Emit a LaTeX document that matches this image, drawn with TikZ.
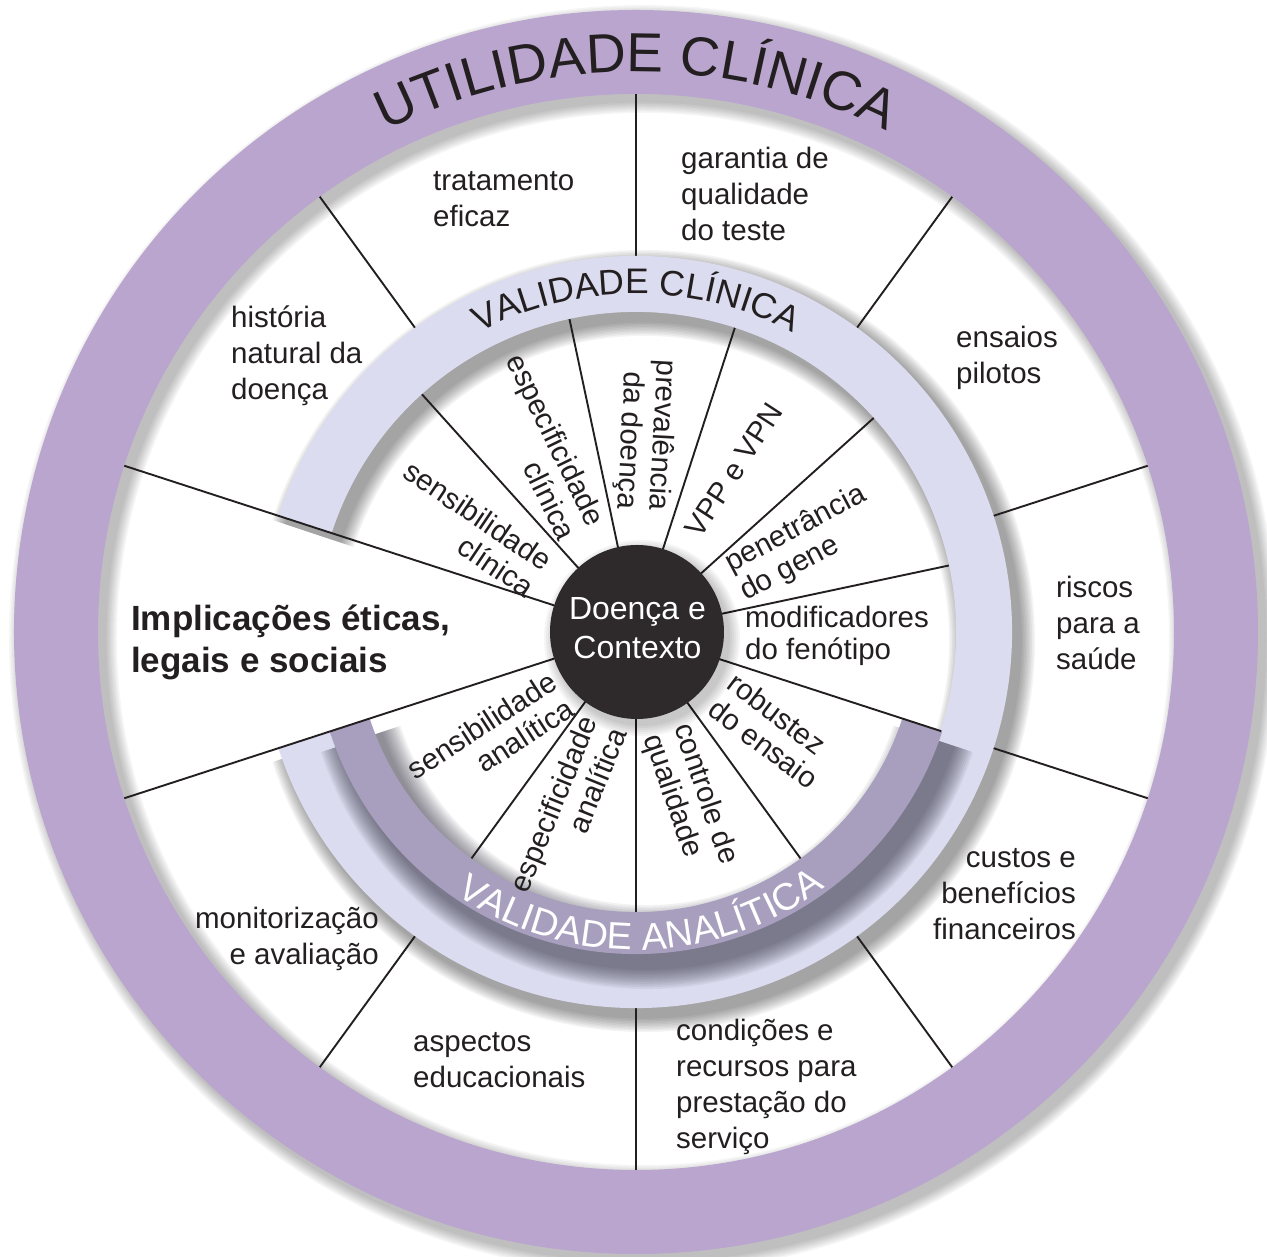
\documentclass[tikz,border=0pt]{standalone}
\usepackage{fontspec}
\setmainfont{Liberation Sans}
\usetikzlibrary{decorations.text}
\definecolor{ringpurple}{RGB}{185,165,206}
\definecolor{lavender}{RGB}{219,220,239}
\definecolor{bandpurple}{RGB}{168,158,189}
\definecolor{coreblack}{RGB}{46,41,42}
\definecolor{txt}{RGB}{35,31,32}
\definecolor{bandshadow}{RGB}{40,38,55}
\begin{document}
\begin{tikzpicture}[x=1pt,y=1pt,
  lbl/.style={font=\fontsize{29.5}{36}\selectfont, text=txt, inner sep=0pt},
  ilbl/.style={font=\fontsize{29.5}{32}\selectfont, text=txt, inner sep=0pt},
  divider/.style={draw=txt, line width=1.9pt},
]
\useasboundingbox (-636,-625) rectangle (631,632);

% outer ring with soft shadow
\begin{scope}[shift={(7,-7)}]
  \foreach \k in {1,...,8}
    \draw[black, opacity=0.035, line width=84+3*\k] (0,0) circle[radius=580];
\end{scope}
\fill[ringpurple, even odd rule] (0,0) circle[radius=622] (0,0) circle[radius=538];

% shadow of the clinical validity ring
\begin{scope}[shift={(8,-9)}]
  \foreach \k in {1,...,10}
    \draw[black, opacity=0.045, line width=56+3*\k] (162:348) arc[start angle=162, end angle=-162, radius=348];
\end{scope}

% dividers of the outer sectors
\foreach \a in {90,54,18,-18,-54,-90,-126,126}
  \draw[divider] (\a:538) -- (\a:370);
% dividers of the upper inner sectors
\foreach \a in {132,102,72,42,12}
  \draw[divider] (\a:86) -- (\a:325);

% clinical validity ring
\draw[lavender, line width=56] (162:348) arc[start angle=162, end angle=-162, radius=348];

% shadow of the analytical validity band
\begin{scope}[shift={(11,-14)}]
  \foreach \k in {1,...,12}
    \draw[draw=bandshadow, opacity=0.06, line width=42+3.5*\k] (198:301) arc[start angle=198, end angle=342, radius=301];
\end{scope}

% dividers of the lower inner sectors
\foreach \a in {-54,-90,-126}
  \draw[divider] (\a:86) -- (\a:282);

% analytical validity band
\draw[bandpurple, line width=42] (198:301) arc[start angle=198, end angle=342, radius=301];

\draw[divider] (-18:86) -- (-18:321);
\draw[divider] (162:538) -- (162:86);
\draw[divider] (198:538) -- (198:86);

% centre
\foreach \k in {1,...,6}
  \fill[black, opacity=0.04] (6,-6) circle[radius=86+2*\k];
\fill[coreblack] (1,0) circle[radius=87];
\node[font=\fontsize{32}{38.5}\selectfont, text=white, align=center, inner sep=0pt] (dc) at (1.5,4) {Doença e\\Contexto};

% ring titles
\path[decorate, decoration={text along path, text align=center, text color=txt,
  text={|\fontsize{55}{60}\selectfont|UTILIDADE CLÍNICA}}]
  (150:560) arc[start angle=150, end angle=30, radius=560];
\path[decorate, decoration={text along path, text align=center, text color=txt,
  text={|\fontsize{35.5}{40}\selectfont|VALIDADE CLÍNICA}}]
  (150:338) arc[start angle=150, end angle=30, radius=338];
\path[decorate, decoration={text along path, text align=center, text color=white,
  text={|\fontsize{38}{40}\selectfont|VALIDADE ANALÍTICA}}]
  (221:318) arc[start angle=221, end angle=321, radius=318];

% inner labels
\node[ilbl, rotate=-34, anchor=east, align=right] (sc) at (150:111) {sensibilidade\\clínica};
\node[ilbl, rotate=-64, anchor=east, align=right] (ec) at (117.7:114) {especificidade\\clínica};
\node[ilbl, rotate=-93, anchor=east, align=right] (pd) at (87.5:122) {prevalência\\da doença};
\node[ilbl, rotate=57, anchor=west] (vpp) at (60:113) {VPP e VPN};
\node[ilbl, rotate=28, anchor=west, align=left] (pg) at (27.7:112) {penetrância\\do gene};
\node[ilbl, anchor=west, align=left] (mf) at (109,-4) {modificadores\\do fenótipo};
\node[ilbl, rotate=-37, anchor=west, align=left] (re) at (-35:105) {robustez\\do ensaio};
\node[ilbl, rotate=-71, anchor=west, align=left] (cq) at (-73:103) {controle de\\qualidade};
\node[ilbl, rotate=68, anchor=east, align=right] (ea) at (-110:97) {especificidade\\analítica};
\node[ilbl, rotate=33, anchor=east, align=right] (sa) at (-141:95) {sensibilidade\\analítica};

% outer labels
\node[lbl, anchor=north west, align=left] (te) at (-203,461) {tratamento\\eficaz};
\node[lbl, anchor=north west, align=left] (gq) at (45,485) {garantia de\\qualidade\\do teste};
\node[lbl, anchor=north west, align=left] (ep) at (320,306) {ensaios\\pilotos};
\node[lbl, anchor=north west, align=left] (rs) at (420,56) {riscos\\para a\\saúde};
\node[lbl, anchor=north east, align=right] (cb) at (440,-216) {custos e\\benefícios\\financeiros};
\node[lbl, anchor=north west, align=left] (cr) at (40,-387) {condições e\\recursos para\\prestação do\\serviço};
\node[lbl, anchor=north west, align=left] (ae) at (-223,-400) {aspectos\\educacionais};
\node[lbl, anchor=north east, align=right] (ma) at (-257,-275) {monitorização\\e avaliação};
\node[lbl, anchor=north west, align=left] (hn) at (-405,326) {história\\natural da\\doença};
\node[font=\bfseries\fontsize{35}{41.5}\selectfont, text=txt, inner sep=0pt, anchor=north west, align=left] (iel) at (-505,27) {Implicações éticas,\\legais e sociais};
\end{tikzpicture}
\end{document}
